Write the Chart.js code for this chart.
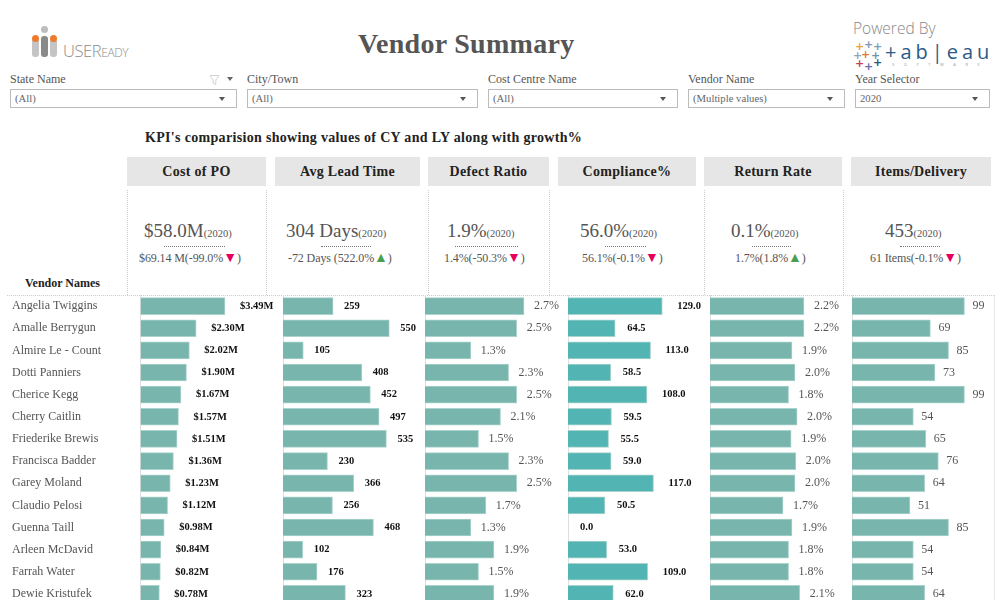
<!DOCTYPE html>
<html>
<head>
<meta charset="utf-8">
<title>Vendor Summary</title>
<script src="https://cdn.jsdelivr.net/npm/chart.js@4"></script>
<style>
  html, body { margin: 0; padding: 0; background: #fff; overflow: hidden; width: 1000px; height: 600px; }
  body { position: relative; font-family: "Liberation Serif", serif; color: #555; }
  .abs { position: absolute; white-space: nowrap; }
  canvas { position: absolute; top: 295px; }
  .head { position: absolute; top: 157px; height: 29px; line-height: 29px; background: #e6e6e6; color: #222; text-align: center; font-weight: bold; font-size: 14px; letter-spacing: .3px; }
  .sep { position: absolute; top: 190px; height: 105px; border-left: 1px dotted #ccc; }
  .rule { position: absolute; top: 246px; border-top: 1px dotted #777; }
  .box { position: absolute; top: 89px; height: 17px; border: 1px solid #bbb; font-size: 10.7px; line-height: 17px; padding-left: 4px; color: #666; }
  .box i { position: absolute; right: 11px; top: 7px; border: 3.5px solid transparent; border-top: 4px solid #555; border-bottom: 0; }
  .plus { position: absolute; font: bold 11px "DejaVu Sans"; line-height: 11px; }
</style>
</head>
<body>
<div id="page"></div>
<canvas id="c0" width="283" height="310" style="left:0"></canvas>
<canvas id="c1" width="142" height="310" style="left:283px"></canvas>
<canvas id="c2" width="143" height="310" style="left:425px"></canvas>
<canvas id="c3" width="142" height="310" style="left:568px"></canvas>
<canvas id="c4" width="142" height="310" style="left:710px"></canvas>
<canvas id="c5" width="142" height="310" style="left:852px"></canvas>
<script>
const vendors = ["Angelia Twiggins", "Amalle Berrygun", "Almire Le - Count", "Dotti Panniers", "Cherice Kegg", "Cherry Caitlin", "Friederike Brewis", "Francisca Badder", "Garey Moland", "Claudio Pelosi", "Guenna Taill", "Arleen McDavid", "Farrah Water", "Dewie Kristufek"];
const costOfPO = [3.49, 2.30, 2.02, 1.90, 1.67, 1.57, 1.51, 1.36, 1.23, 1.12, 0.98, 0.84, 0.82, 0.78];
const leadTime = [259, 550, 105, 408, 452, 497, 535, 230, 366, 256, 468, 102, 176, 323];
const defectRatio = [2.70, 2.50, 1.25, 2.28, 2.50, 2.06, 1.46, 2.28, 2.50, 1.66, 1.25, 1.88, 1.46, 1.88];
const compliance = [129.0, 64.5, 113.0, 58.5, 108.0, 59.5, 55.5, 59.0, 117.0, 50.5, 0.0, 53.0, 109.0, 62.0];
const returnRate = [2.20, 2.20, 1.92, 1.99, 1.84, 2.04, 1.90, 2.01, 1.99, 1.71, 1.92, 1.84, 1.84, 2.10];
const itemsDelivery = [99, 69, 85, 73, 99, 54, 65, 76, 64, 51, 85, 54, 54, 64];

const headers = ["Cost of PO", "Avg Lead Time", "Defect Ratio", "Compliance%", "Return Rate", "Items/Delivery"];
const kpiNow = ["$58.0M", "304 Days", "1.9%", "56.0%", "0.1%", "453"];
const kpiPrev = ["$69.14 M(-99.0%", "-72 Days (522.0%", "1.4%(-50.3%", "56.1%(-0.1%", "1.7%(1.8%", "61 Items(-0.1%"];
const kpiUp = [false, true, false, false, true, false];
const filters = ["State Name", "City/Town", "Cost Centre Name", "Vendor Name", "Year Selector"];
const filterValues = ["(All)", "(All)", "(All)", "(Multiple values)", "2020"];

// page furniture around the charts
const headX = [[127, 139], [275, 145], [428, 121], [558, 138], [704, 138], [851, 140]];
const nowX = [144, 286, 447, 580, 731, 885];
const subX = [139, 288, 444, 582, 735, 870];
const ruleX = [[164, 61], [321, 50], [455, 63], [605, 41], [752, 39], [900, 40]];
const sepX = [127, 266, 428, 549, 704, 843];
const filterX = [[10, 227], [247, 231], [488, 190], [688, 157], [855, 135]];
let html = "";

headers.forEach((h, i) => {
  html += `<div class="head" style="left:${headX[i][0]}px;width:${headX[i][1]}px">${h}</div>`;
  html += `<div class="abs" style="left:${nowX[i]}px;top:220px;font-size:19px;color:#555">${kpiNow[i]}<span style="font-size:10.5px">(2020)</span></div>`;
  html += `<div class="rule" style="left:${ruleX[i][0]}px;width:${ruleX[i][1]}px"></div>`;
  html += `<div class="abs" style="left:${subX[i]}px;top:251px;font-size:12px;letter-spacing:-.1px;color:#555">${kpiPrev[i]}<span style="font-size:14px;line-height:12px;color:${kpiUp[i] ? "#4a9e4f" : "#e6005c"}">${kpiUp[i] ? "▲" : "▼"}</span>)</div>`;
});
sepX.forEach(x => { html += `<div class="sep" style="left:${x}px"></div>`; });
filters.forEach((f, i) => {
  html += `<div class="abs" style="left:${filterX[i][0]}px;top:72px;font-size:12px;color:#555">${f}</div>`;
  html += `<div class="box" style="left:${filterX[i][0]}px;width:${filterX[i][1] - 6}px">${filterValues[i]}<i></i></div>`;
});
const plusMarks = [[855, 41, "#e8a33d"], [864, 39, "#7b9dbb"], [873, 41, "#7b9dbb"], [861, 49, "#e8772e"], [853, 50, "#88a8c0"], [871, 50, "#6d93ad"], [855, 58, "#c7434f"], [864, 61, "#6a6fa8"], [873, 57, "#31567d"]];
plusMarks.forEach(p => { html += `<span class="plus" style="left:${p[0]}px;top:${p[1]}px;color:${p[2]}">+</span>`; });
html += `
  <div class="abs" style="left:358px;top:28px;font-size:28px;font-weight:bold;color:#555;letter-spacing:.3px">Vendor Summary</div>
  <div class="abs" style="left:145px;top:130px;font-size:14px;font-weight:bold;color:#222;letter-spacing:.32px">KPI's comparision showing values of CY and LY along with growth%</div>
  <div class="abs" style="left:25px;top:276px;font-size:12px;font-weight:bold;color:#222">Vendor Names</div>
  <div class="abs" style="left:63px;top:39px;font:300 16.5px 'Open Sans';color:#8a8a8a;letter-spacing:-.4px">USER<span style="font-size:12px">EADY</span></div>
  <div class="abs" style="left:32px;top:38px;width:7px;height:19px;border-radius:3px;background:#c4c4c4"></div>
  <div class="abs" style="left:41px;top:36px;width:7px;height:21px;border-radius:3px;background:#8a8a8a"></div>
  <div class="abs" style="left:50px;top:38px;width:7px;height:19px;border-radius:3px;background:#c4c4c4"></div>
  <div class="abs" style="left:32px;top:35px;width:7px;height:7px;border-radius:50%;background:#ee7a2d"></div>
  <div class="abs" style="left:50px;top:35px;width:7px;height:7px;border-radius:50%;background:#ee7a2d"></div>
  <div class="abs" style="left:41px;top:26px;width:7px;height:7px;border-radius:50%;background:#bdbdbd"></div>
  <div class="abs" style="left:853px;top:17px;font:300 15.5px 'Open Sans';color:#888">Powered By</div>
  <div class="abs" style="left:885px;top:38px;font:500 20px 'Open Sans';color:#2c5a88;letter-spacing:4px">+ab|eau</div>
  <div class="abs" style="left:892px;top:62px;font:500 4px 'Open Sans';color:#999;letter-spacing:9.6px">SOFTWARE</div>
  <div class="abs" style="left:7px;top:295px;width:987px;border-top:1px dotted #ccc"></div>
  <div class="abs" style="left:994px;top:295px;height:305px;border-left:1px solid #e8e8e8"></div>
  <svg class="abs" style="left:209px;top:74px" width="12" height="12"><path d="M1 1.5H10L6.8 6V10.5L4.2 9.2V6Z" fill="none" stroke="#cfd4d4"/></svg>
  <div class="abs" style="left:227px;top:77px;border:3.5px solid transparent;border-top:4px solid #666;border-bottom:0"></div>`;
document.getElementById("page").innerHTML = html;

Chart.defaults.animation = false;
Chart.defaults.font.family = "Liberation Serif";

const barLabels = {
  id: "barLabels",
  afterDatasetsDraw(chart, args, opts) {
    const ctx = chart.ctx;
    const meta = chart.getDatasetMeta(0);
    ctx.save();
    ctx.font = opts.font;
    ctx.fillStyle = opts.color;
    ctx.textAlign = "left";
    ctx.textBaseline = "middle";
    meta.data.forEach((bar, i) => {
      const text = opts.format(chart.data.datasets[0].data[i]);
      ctx.fillText(text, bar.x + opts.gap(text), bar.y);
    });
    ctx.restore();
  }
};

const bold = "bold 10.5px 'Liberation Serif'";
const plain = "12px 'Liberation Serif'";
const teal = "#78b5ad";
const columns = [
  { id: "c0", data: costOfPO, max: 5.89, font: bold, color: "#111", fill: teal, gap: () => 15, format: v => "$" + v.toFixed(2) + "M", names: true },
  { id: "c1", data: leadTime, max: 734.6, font: bold, color: "#111", fill: teal, gap: () => 11, format: v => String(v) },
  { id: "c2", data: defectRatio, max: 3.9, font: plain, color: "#555", fill: teal, gap: () => 10, format: v => v.toFixed(1) + "%" },
  { id: "c3", data: compliance, max: 194.3, font: bold, color: "#111", fill: "#52b5b3", gap: t => t.length > 4 ? 15 : 12, format: v => v.toFixed(1) },
  { id: "c4", data: returnRate, max: 3.325, font: plain, color: "#555", fill: teal, gap: () => 10, format: v => v.toFixed(1) + "%" },
  { id: "c5", data: itemsDelivery, max: 125, font: plain, color: "#555", fill: teal, gap: () => 8, format: v => String(v) }
];

columns.forEach(col => {
  new Chart(document.getElementById(col.id), {
    type: "bar",
    plugins: [barLabels],
    data: {
      labels: vendors,
      datasets: [{
        data: col.data,
        backgroundColor: col.fill,
        borderColor: "#a9d3cd",
        borderWidth: 1,
        barThickness: 17
      }]
    },
    options: {
      indexAxis: "y",
      responsive: false,
      layout: { autoPadding: false, padding: { left: col.names ? 12 : 0 } },
      plugins: {
        legend: { display: false },
        tooltip: { enabled: false },
        barLabels: { font: col.font, color: col.color, gap: col.gap, format: col.format }
      },
      scales: {
        x: { display: false, min: 0, max: col.max },
        y: {
          grid: { display: false, drawTicks: false },
          border: { display: true, color: "#dedede" },
          ticks: {
            display: !!col.names,
            crossAlign: "far",
            padding: 0,
            color: "#555",
            autoSkip: false,
            font: { size: 12 }
          },
          afterFit(axis) {
            axis.width = col.names ? 128.5 : 0;
            axis.paddingTop = 0;
            axis.paddingBottom = 0;
          }
        }
      }
    }
  });
});
</script>
</body>
</html>
